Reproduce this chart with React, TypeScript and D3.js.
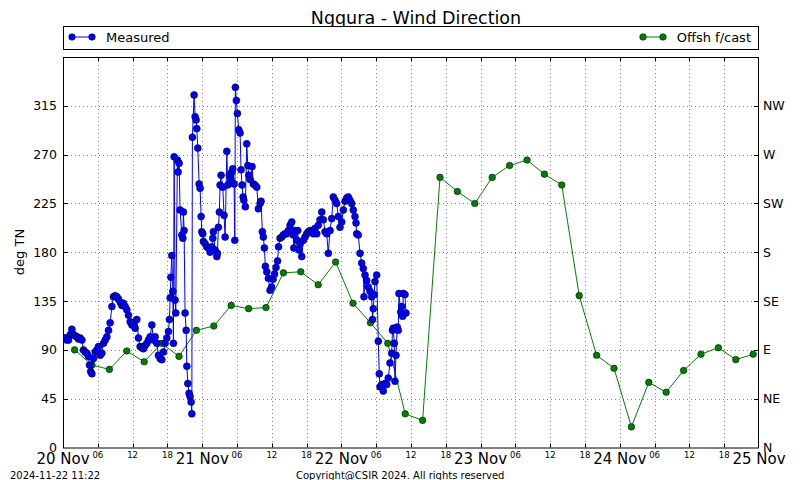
import React from "react";
import * as d3 from "d3";

// ---- Data ----
const dayLabels = ["20 Nov", "21 Nov", "22 Nov", "23 Nov", "24 Nov", "25 Nov"];
const hourLabels = ["06", "12", "18"];
const yTicks = [0, 45, 90, 135, 180, 225, 270, 315];
const compassLabels = ["N", "NE", "E", "SE", "S", "SW", "W", "NW"];

// Offshore forecast: hours since 20 Nov 00:00
const forecastHours = [2, 5, 8, 11, 14, 17, 20, 23, 26, 29, 32, 35, 38, 41, 44, 47, 50, 53, 56, 59, 62, 65, 68, 71, 74, 77, 80, 83, 86, 89, 92, 95, 98, 101, 104, 107, 110, 113, 116, 119];
const forecastDeg = [90, 76, 72, 89, 79, 96, 84, 108, 112, 131, 128, 129, 161, 162, 150, 171, 133, 115, 96, 31, 25, 249, 236, 225, 249, 260, 265, 252, 242, 140, 85, 73, 19, 60, 51, 71, 86, 92, 81, 86];

// Measured: hours since 20 Nov 00:00
const measuredHours = [
  0.12, 0.38, 0.64, 0.95, 1.24, 1.53, 1.81, 2.10, 2.39, 2.67, 2.96, 3.26, 3.53, 3.82, 4.12, 4.39, 4.57, 4.77, 4.98, 5.25,
  5.55, 5.84, 6.12, 6.41, 6.70, 6.98, 7.27, 7.56, 7.84, 8.13, 8.43, 8.70, 8.99, 9.29, 9.56, 9.86, 10.15, 10.42, 10.72, 11.01,
  11.29, 11.58, 11.87, 12.15, 12.44, 12.73, 13.01, 13.30, 13.59, 13.87, 14.16, 14.46, 14.73, 15.02, 15.32, 15.59, 15.89, 16.18, 16.45, 16.75,
  17.04, 17.32, 17.61, 17.90, 18.18, 18.35, 18.47, 18.59, 18.76, 18.94, 19.04, 19.16, 19.33, 19.45, 19.73, 19.85, 20.02, 20.19, 20.49, 20.66,
  20.76, 20.88, 21.05, 21.23, 21.35, 21.52, 21.74, 21.92, 22.09, 22.21, 22.31, 22.60, 22.78, 22.95, 23.07, 23.24, 23.47, 23.64, 23.81, 23.93,
  24.10, 24.21, 24.50, 24.79, 25.07, 25.36, 25.65, 25.83, 25.93, 26.22, 26.52, 26.62, 26.79, 26.96, 27.08, 27.26, 27.55, 27.77, 27.95, 28.24,
  28.41, 28.69, 28.93, 29.10, 29.27, 29.50, 29.62, 29.72, 29.89, 30.07, 30.31, 30.53, 30.70, 30.87, 31.05, 31.17, 31.44, 31.68, 31.86, 32.03,
  32.25, 32.60, 32.82, 33.11, 33.41, 33.68, 33.98, 34.15, 34.37, 34.54, 34.72, 34.89, 35.13, 35.41, 35.70, 35.96, 36.22, 36.47, 36.73, 36.99,
  37.16, 37.42, 37.71, 37.99, 38.28, 38.58, 38.85, 39.15, 39.44, 39.71, 39.80, 40.01, 40.30, 40.47, 40.70, 40.87, 41.16, 41.44, 41.73, 42.02,
  42.30, 42.59, 42.88, 43.16, 43.45, 43.75, 44.02, 44.31, 44.61, 44.88, 45.18, 45.47, 45.74, 46.04, 46.33, 46.61, 46.90, 47.19, 47.47, 47.76,
  48.05, 48.33, 48.62, 48.91, 49.19, 49.48, 49.78, 50.05, 50.34, 50.52, 50.64, 50.91, 51.21, 51.50, 51.77, 51.89, 52.07, 52.36, 52.64, 52.93,
  53.22, 53.36, 53.50, 53.65, 53.79, 54.08, 54.36, 54.53, 54.65, 54.95, 55.22, 55.51, 55.81, 56.08, 56.38, 56.67, 56.81, 56.94, 57.12, 57.24,
  57.41, 57.63, 57.80, 57.92, 58.22, 58.39, 58.56, 58.67, 58.96, 59.13,
];
const measuredDeg = [
  101, 101, 99, 99, 104, 109, 104, 103, 102, 100, 101, 99, 90, 88, 87, 84, 76, 70, 68, 82,
  88, 90, 93, 85, 87, 96, 99, 102, 108, 115, 130, 139, 140, 139, 137, 134, 131, 133, 130, 127,
  122, 116, 113, 115, 110, 118, 101, 93, 92, 91, 94, 96, 99, 102, 113, 99, 102, 96, 85, 82,
  81, 88, 96, 101, 107, 118, 138, 157, 177, 144, 96, 268, 136, 124, 265, 254, 262, 219, 196, 193,
  217, 200, 124, 108, 75, 59, 50, 47, 42, 31, 286, 325, 305, 302, 294, 276, 243, 239, 213, 199,
  197, 190, 188, 185, 184, 180, 185, 193, 199, 182, 176, 179, 203, 217, 242, 251, 240, 214, 194, 273,
  242, 251, 247, 254, 257, 243, 191, 332, 320, 308, 293, 290, 256, 242, 231, 228, 222, 280, 260, 251,
  247, 259, 243, 242, 240, 220, 225, 227, 199, 194, 184, 167, 162, 156, 145, 148, 155, 160, 166, 172,
  185, 193, 194, 196, 197, 197, 200, 205, 208, 196, 184, 200, 191, 200, 182, 188, 176, 191, 194, 197,
  199, 200, 199, 197, 202, 197, 205, 210, 217, 210, 199, 197, 179, 200, 211, 231, 228, 225, 213, 203,
  208, 219, 227, 230, 231, 228, 225, 219, 213, 207, 197, 196, 179, 170, 165, 139, 159, 154, 148, 144,
  139, 118, 128, 141, 153, 159, 98, 68, 56, 58, 52, 59, 58, 64, 78, 87, 108, 110, 96, 61,
  85, 111, 108, 142, 125, 130, 121, 142, 141, 124,
];

const FONT = "DejaVu Sans, sans-serif";

export default function App() {
  const W = 800;
  const H = 480;
  const x0 = 63, x1 = 759, y0 = 57, y1 = 447.5;
  const x = d3.scaleLinear().domain([0, 120]).range([x0, x1]);
  const y = d3.scaleLinear().domain([0, 360]).range([y1, y0]);

  const measured = measuredHours.map((h, i) => [h, measuredDeg[i]] as [number, number]);
  const forecast = forecastHours.map((h, i) => [h, forecastDeg[i]] as [number, number]);
  const line = d3.line<[number, number]>().x((d) => x(d[0])).y((d) => y(d[1]));

  const sixHours = d3.range(6, 120, 6);
  const gridY = yTicks.filter((t) => t > 0);

  return (
    <svg width={W} height={H} style={{ position: "absolute", left: 0, top: 0 }} fontFamily={FONT}>
      <rect x={0} y={0} width={W} height={H} fill="#fff" />
      <defs>
        <clipPath id="plotclip">
          <rect x={x0} y={y0} width={x1 - x0} height={y1 - y0} />
        </clipPath>
      </defs>

      {/* title */}
      <text x={416} y={24} fontSize={17.5} textAnchor="middle" fill="#000">Ngqura - Wind Direction</text>

      {/* legend */}
      <rect x={x0 + 0.5} y={26.5} width={x1 - x0 - 1} height={23} fill="#fff" stroke="#000" strokeWidth={1} />
      <line x1={72} x2={92} y1={37} y2={37} stroke="#0000ff" strokeWidth={1} />
      <circle cx={72} cy={37} r={3.3} fill="#0000ff" stroke="#000" strokeWidth={0.5} />
      <circle cx={92} cy={37} r={3.3} fill="#0000ff" stroke="#000" strokeWidth={0.5} />
      <text x={106} y={41.5} fontSize={13} fill="#000">Measured</text>
      <line x1={643} x2={663} y1={37} y2={37} stroke="#008000" strokeWidth={1} />
      <circle cx={643} cy={37} r={3.3} fill="#008000" stroke="#000" strokeWidth={0.5} />
      <circle cx={663} cy={37} r={3.3} fill="#008000" stroke="#000" strokeWidth={0.5} />
      <text x={751} y={41.5} fontSize={13} textAnchor="end" fill="#000">Offsh f/cast</text>

      {/* grid */}
      <g stroke="#333" strokeWidth={0.6} strokeDasharray="1,3">
        {sixHours.map((h) => (
          <line key={"gx" + h} x1={Math.round(x(h)) + 0.5} x2={Math.round(x(h)) + 0.5} y1={y0} y2={y1} />
        ))}
        {gridY.map((t) => (
          <line key={"gy" + t} x1={x0} x2={x1} y1={Math.round(y(t)) + 0.5} y2={Math.round(y(t)) + 0.5} />
        ))}
      </g>

      {/* ticks */}
      <g stroke="#000" strokeWidth={1}>
        {sixHours.map((h) => (
          <g key={"tx" + h}>
            <line x1={Math.round(x(h)) + 0.5} x2={Math.round(x(h)) + 0.5} y1={y1} y2={y1 - 4} />
            <line x1={Math.round(x(h)) + 0.5} x2={Math.round(x(h)) + 0.5} y1={y0} y2={y0 + 4} />
          </g>
        ))}
        {gridY.map((t) => (
          <g key={"ty" + t}>
            <line x1={x0} x2={x0 + 5} y1={Math.round(y(t)) + 0.5} y2={Math.round(y(t)) + 0.5} />
            <line x1={x1} x2={x1 - 5} y1={Math.round(y(t)) + 0.5} y2={Math.round(y(t)) + 0.5} />
          </g>
        ))}
      </g>

      {/* data */}
      <g clipPath="url(#plotclip)">
        <path d={line(forecast) || ""} fill="none" stroke="#008000" strokeWidth={1} />
        {forecast.map((d, i) => (
          <circle key={"f" + i} cx={x(d[0])} cy={y(d[1])} r={3.3} fill="#008000" stroke="#000" strokeWidth={0.5} />
        ))}
        <path d={line(measured) || ""} fill="none" stroke="#0000ff" strokeWidth={1} />
        {measured.map((d, i) => (
          <circle key={"m" + i} cx={x(d[0])} cy={y(d[1])} r={3.5} fill="#0000ff" stroke="#000" strokeWidth={0.5} />
        ))}
      </g>

      {/* frame */}
      <rect x={x0 + 0.5} y={y0 + 0.5} width={x1 - x0 - 1} height={y1 - y0} fill="none" stroke="#000" strokeWidth={1} />

      {/* y labels left */}
      {yTicks.map((t) => (
        <text key={"yl" + t} x={57} y={y(t) + 4.5} fontSize={12.5} textAnchor="end" fill="#000">{t}</text>
      ))}
      {/* y labels right */}
      {yTicks.map((t, i) => (
        <text key={"yr" + t} x={763} y={y(t) + 4.5} fontSize={12.5} textAnchor="start" fill="#000">{compassLabels[i]}</text>
      ))}
      <text transform={`translate(24,252) rotate(-90)`} fontSize={13} textAnchor="middle" fill="#000">deg TN</text>

      {/* x labels */}
      {dayLabels.map((lab, i) => (
        <text key={"dl" + i} x={x(i * 24)} y={464} fontSize={15} textAnchor="middle" fill="#000">{lab}</text>
      ))}
      {d3.range(0, 5).map((d) =>
        hourLabels.map((hl, j) => (
          <text key={"hl" + d + j} x={x(d * 24 + (j + 1) * 6)} y={458} fontSize={8.5} textAnchor="middle" fill="#000">{hl}</text>
        ))
      )}

      {/* footer */}
      <text x={10} y={478.5} fontSize={10} fill="#000">2024-11-22 11:22</text>
      <text x={296} y={478.5} fontSize={10} fill="#000">Copyright@CSIR 2024. All rights reserved</text>
    </svg>
  );
}
